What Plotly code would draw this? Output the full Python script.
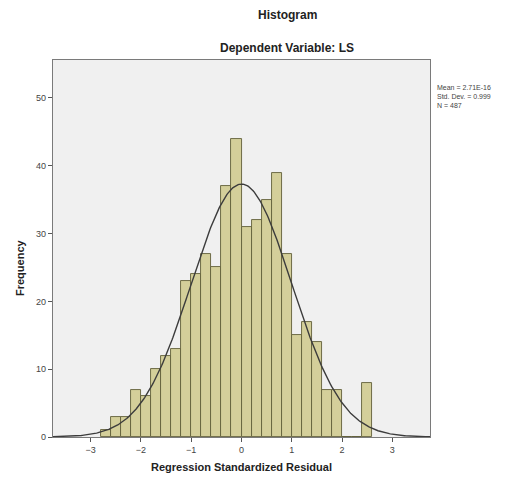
import numpy as np
import plotly.graph_objects as go

bin_centers = [-2.7, -2.5, -2.3, -2.1, -1.9, -1.7, -1.5, -1.3, -1.1, -0.9,
               -0.7, -0.5, -0.3, -0.1, 0.1, 0.3, 0.5, 0.7, 0.9, 1.1,
               1.3, 1.5, 1.7, 1.9, 2.1, 2.3, 2.5]
frequencies = [1, 3, 3, 7, 6, 10, 12, 13, 23, 24,
               27, 25, 37, 44, 31, 32, 35, 39, 27, 15,
               17, 14, 7, 7, 0, 0, 8]
bin_width = 0.2

stat_mean = 2.71e-16
stat_sd = 0.999
stat_n = 487

x_ticks = [-3, -2, -1, 0, 1, 2, 3]
y_ticks = [0, 10, 20, 30, 40, 50]

# Normal curve scaled to the histogram
xc = np.linspace(-3.75, 3.75, 400)
scale = sum(frequencies) * bin_width
yc = scale / (stat_sd * np.sqrt(2 * np.pi)) * np.exp(-0.5 * ((xc - stat_mean) / stat_sd) ** 2)

font_family = "Liberation Sans, Arial, sans-serif"

fig = go.Figure()
fig.add_trace(go.Bar(
    x=bin_centers, y=frequencies, width=bin_width,
    marker=dict(color="#D4CF9A", line=dict(color="#62603A", width=0.9)),
    hoverinfo="x+y", showlegend=False,
))
fig.add_trace(go.Scatter(
    x=xc, y=yc, mode="lines",
    line=dict(color="#3C3C3C", width=1.4),
    hoverinfo="skip", showlegend=False,
))

fig.update_layout(
    width=514, height=487,
    margin=dict(l=53, r=84, t=60, b=50),
    paper_bgcolor="white",
    plot_bgcolor="#F0F0F0",
    bargap=0,
    font=dict(family=font_family, size=9, color="#333333"),
    xaxis=dict(
        range=[-3.75, 3.75], tickvals=x_ticks, ticks="outside", ticklen=4,
        tickcolor="#555555", tickfont=dict(size=9, color="#444444"),
        showgrid=False, zeroline=False, showline=True, linecolor="#7A7A7A",
        linewidth=1.3, mirror=True,
    ),
    yaxis=dict(
        range=[0, 55.6], tickvals=y_ticks, ticks="outside", ticklen=4,
        tickcolor="#555555", tickfont=dict(size=9, color="#444444"),
        showgrid=False, zeroline=False, showline=True, linecolor="#7A7A7A",
        linewidth=1.3, mirror=True,
    ),
    annotations=[
        dict(text="<b>Histogram</b>", xref="paper", yref="paper",
             x=(287 - 53) / 377, y=1 + (60 - 15) / 377, xanchor="center", yanchor="middle",
             showarrow=False, font=dict(size=12, color="#222222")),
        dict(text="<b>Dependent Variable: LS</b>", xref="paper", yref="paper",
             x=(287 - 53) / 377, y=1 + (60 - 48) / 377, xanchor="center", yanchor="middle",
             showarrow=False, font=dict(size=12, color="#222222")),
        dict(text="<b>Regression Standardized Residual</b>", xref="paper", yref="paper",
             x=0.5, y=-(467 - 437) / 377, xanchor="center", yanchor="middle",
             showarrow=False, font=dict(size=11, color="#222222")),
        dict(text="<b>Frequency</b>", xref="paper", yref="paper",
             x=-(53 - 20) / 377, y=(437 - 268) / 377, xanchor="center", yanchor="middle",
             textangle=-90, showarrow=False, font=dict(size=11, color="#222222")),
        dict(text=f"Mean = 2.71E-16<br>Std. Dev. = {stat_sd}<br>N = {stat_n}",
             xref="paper", yref="paper", x=(435 - 53) / 377, y=(437 - 82) / 377,
             xanchor="left", yanchor="top", align="left", showarrow=False,
             font=dict(size=7, color="#444444")),
    ],
)

fig.write_html("out.html", config={"displayModeBar": False},
               post_script="document.body.style.margin='0';")
